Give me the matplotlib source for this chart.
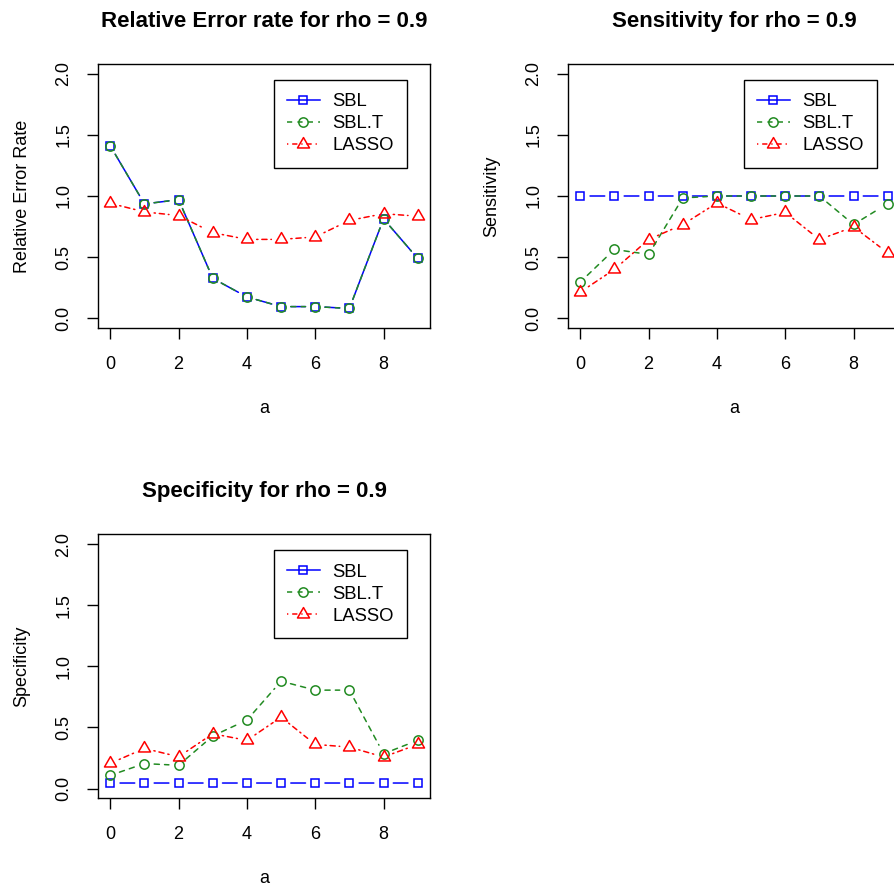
import matplotlib
matplotlib.use("Agg")
import matplotlib.pyplot as plt
from matplotlib.lines import Line2D
from matplotlib.path import Path

plt.rcParams['font.family'] = ['Liberation Sans', 'DejaVu Sans']

# ---------------- data ----------------
a = [0, 1, 2, 3, 4, 5, 6, 7, 8, 9]

rel_sbl = [1.41, 0.935, 0.97, 0.326, 0.174, 0.095, 0.095, 0.08, 0.813, 0.489]
rel_sblt = [1.41, 0.935, 0.97, 0.326, 0.174, 0.095, 0.095, 0.08, 0.813, 0.489]
rel_lasso = [0.94, 0.87, 0.84, 0.70, 0.645, 0.645, 0.665, 0.80, 0.855, 0.835]

sens_sbl = [1.0, 1.0, 1.0, 1.0, 1.0, 1.0, 1.0, 1.0, 1.0, 1.0]
sens_sblt = [0.296, 0.563, 0.522, 0.984, 1.0, 1.0, 1.0, 1.0, 0.767, 0.938]
sens_lasso = [0.214, 0.40, 0.644, 0.766, 0.943, 0.807, 0.866, 0.644, 0.747, 0.535]

spec_sbl = [0.045, 0.045, 0.045, 0.045, 0.045, 0.045, 0.045, 0.045, 0.045, 0.045]
spec_sblt = [0.108, 0.204, 0.19, 0.43, 0.56, 0.878, 0.805, 0.805, 0.285, 0.394]
spec_lasso = [0.206, 0.328, 0.26, 0.448, 0.394, 0.584, 0.361, 0.339, 0.258, 0.361]

series_names = ["SBL", "SBL.T", "LASSO"]
titles = ["Relative Error rate for rho = 0.9", "Sensitivity for rho = 0.9",
          "Specificity for rho = 0.9"]
ylabels = ["Relative Error Rate", "Sensitivity", "Specificity"]
xlabel = "a"
xticks = [0, 2, 4, 6, 8]
xtick_labels = ["0", "2", "4", "6", "8"]
yticks = [0.0, 0.5, 1.0, 1.5, 2.0]
ytick_labels = ["0.0", "0.5", "1.0", "1.5", "2.0"]

# ---------------- styles ----------------
colors = ["#0000FF", "#228B22", "#FF0000"]
linestyles = ["-", (0, (3.4, 3.4)), (0, (0.85, 2.55, 3.4, 2.55))]
tri = Path([(0, 1), (-0.866, -0.5), (0.866, -0.5), (0, 1)],
           [Path.MOVETO, Path.LINETO, Path.LINETO, Path.CLOSEPOLY])
markers = ["s", "o", tri]
msizes = [6.0, 6.7, 10.0]
LW = 1.1
GAP = 7.0  # points, R type="b" gap around points

W, H = 894, 890
fig = plt.figure(figsize=(W / 100, H / 100), dpi=100)

def rect(left, top, right, bottom):
    return [left / W, 1 - bottom / H, (right - left) / W, (bottom - top) / H]

positions = [rect(98, 64, 430, 328), rect(568, 64, 900, 328),
             rect(98, 534.3, 430, 798.3)]
panels = [(rel_sbl, rel_sblt, rel_lasso),
          (sens_sbl, sens_sblt, sens_lasso),
          (spec_sbl, spec_sblt, spec_lasso)]

for pos, data, title, ylab in zip(positions, panels, titles, ylabels):
    ax = fig.add_axes(pos)
    ax.set_xlim(-0.36, 9.36)
    ax.set_ylim(-0.08, 2.08)
    for vals, c, ls, m, ms in zip(data, colors, linestyles, markers, msizes):
        for i in range(len(a) - 1):
            ax.annotate('', xy=(a[i + 1], vals[i + 1]), xytext=(a[i], vals[i]),
                        xycoords='data', textcoords='data',
                        arrowprops=dict(arrowstyle='-', shrinkA=GAP, shrinkB=GAP,
                                        color=c, lw=LW, linestyle=ls))
        ax.plot(a, vals, linestyle='none', marker=m, ms=ms, mfc='none',
                mec=c, mew=LW)
    for s in ax.spines.values():
        s.set_linewidth(1.0)
    ax.set_xticks(xticks, xtick_labels, fontsize=13)
    ax.set_yticks(yticks, ytick_labels, fontsize=13, rotation=90, va='center')
    ax.tick_params(axis='both', direction='out', length=8.2, width=1.0)
    ax.tick_params(axis='x', pad=11.7)
    ax.tick_params(axis='y', pad=10.3)
    ax.set_title(title, fontsize=16, fontweight='bold', pad=26.9)
    ax.set_xlabel(xlabel, fontsize=13)
    ax.xaxis.label.set_va('baseline')
    ax.xaxis.set_label_coords(0.5, -0.322)
    ax.set_ylabel(ylab, fontsize=13)
    ax.yaxis.label.set_va('baseline')
    ax.yaxis.set_label_coords(-0.2148, 0.5)
    handles = [Line2D([], [], color=c, linestyle=ls, lw=LW, marker=m, ms=ms,
                      mfc='none', mec=c, mew=LW)
               for c, ls, m, ms in zip(colors, linestyles, markers, msizes)]
    leg = ax.legend(handles, series_names, loc='upper right',
                    bbox_to_anchor=(0.9316, 0.939), borderaxespad=0,
                    fontsize=13.3, frameon=True, fancybox=False, shadow=False,
                    framealpha=1, edgecolor='black', borderpad=0.72,
                    handlelength=1.75, handletextpad=0.7, labelspacing=0.27)
    leg.get_frame().set_linewidth(1.0)

fig.savefig("out.png", dpi=100)
